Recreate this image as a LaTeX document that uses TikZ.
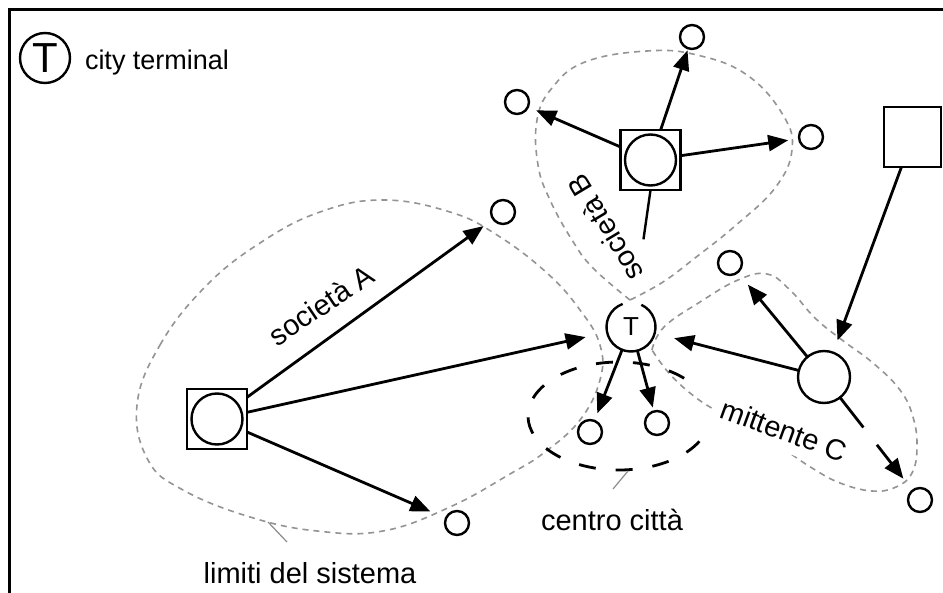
\documentclass[tikz,border=0pt]{standalone}
\usepackage{fontspec}
\setmainfont{Liberation Sans}
\usetikzlibrary{arrows.meta}
\begin{document}
\begin{tikzpicture}[x=1pt, y=-1pt,
  every node/.style={inner sep=0pt, outer sep=0pt},
  hub/.style={draw, line width=2.6pt, minimum size=60pt},
  disc/.style={circle, draw, line width=2.4pt, minimum size=51pt},
  dot/.style={circle, draw, line width=2.4pt, minimum size=24pt},
  flow/.style={line width=2.8pt, -{Triangle[length=20pt, width=16pt]}},
  zone/.style={draw=black!42, line width=1.6pt, dash pattern=on 6pt off 5pt},
  lbl/.style={font=\fontsize{29}{30}\selectfont},
  leader/.style={draw=black!45, line width=1.2pt}]

\useasboundingbox (0,0) rectangle (943,593);
\fill[white] (0,0) rectangle (943,593);
% frame (top and left edges)
\draw[line width=3pt] (9.5,593) -- (9.5,9.5) -- (943,9.5);

% legend
\node[circle, draw, line width=2.4pt, minimum size=50pt,
      font=\fontsize{42}{42}\selectfont] (legT) at (45,58) {T};
\node[anchor=base west, font=\fontsize{27}{28}\selectfont] (legtxt) at (85,70) {city terminal};

% system boundaries
\draw[zone] plot[smooth cycle, tension=0.7] coordinates {
  (137,405) (160,345) (205,287) (260,243) (320,212) (383,200) (450,212)
  (497,235) (547,273) (580,310) (600,345) (600,380) (580,420) (545,452)
  (510,474) (450,507) (383,531) (317,531) (250,517) (183,490) (148,460)};
\draw[zone] plot[smooth, tension=0.7] coordinates {
  (630,300) (593,268) (572,240) (550,200) (538,165) (537,120) (552,88)
  (585,62) (647,51) (697,55) (747,75) (783,115) (792,150) (775,188)
  (735,226) (695,258) (663,282) (630,300)};
\draw[zone] plot[smooth, tension=0.7] coordinates {
  (652,350) (664,327) (700,302) (738,280) (767,274) (790,290) (815,318)
  (842,340) (873,363) (900,390) (913,417) (917,447) (912,473) (896,487)
  (872,491) (840,483) (812,468) (785,450) (750,428) (715,410) (690,393)
  (668,372) (652,350)};

% city centre
\draw[line width=2.8pt, dash pattern=on 17pt off 20pt]
  ([shift={(-28:91pt and 54pt)}]619,416)
  arc[start angle=-28, end angle=-318, x radius=91pt, y radius=54pt];

% hubs
\node[hub] (A) at (217,419) {};
\node[disc] (Ain) at (A) {};
\node[hub] (B) at (650.5,160) {};
\node[disc] (Bin) at (B) {};
\node[draw, line width=2.6pt, minimum width=57pt, minimum height=60pt] (R) at (912.5,137) {};
\node[disc, minimum size=52pt] (C) at (824,377) {};

% terminal
\node[circle, minimum size=49pt, font=\fontsize{26}{26}\selectfont] (T) at (631,327) {T};
\draw[line width=2.4pt] (T.110) arc[start angle=110, end angle=425, radius=24.5pt];

% destinations
\node[dot] (a1) at (503,212) {};
\node[dot] (a2) at (457,523) {};
\node[dot] (b1) at (692,37) {};
\node[dot] (b2) at (517,102) {};
\node[dot] (b3) at (811,137) {};
\node[dot] (c1) at (730,263) {};
\node[dot] (c2) at (920,500) {};
\node[dot] (t1) at (590,432) {};
\node[dot] (t2) at (657,423) {};

% flows
\draw[flow, shorten >=12pt] (A) -- (a1);
\draw[flow, shorten >=22pt] (A) -- (T);
\draw[flow, shorten >=17pt] (A) -- (a2);
\draw[flow, shorten >=2pt] (B) -- (b1);
\draw[flow, shorten >=9pt] (B) -- (b2);
\draw[flow, shorten >=11pt] (B) -- (b3);
\draw[line width=2.4pt, shorten >=64pt] (B.south) -- (T);
\draw[flow, shorten >=8pt] (T) -- (t1);
\draw[flow, shorten >=4pt] (T) -- (t2);
\draw[flow, shorten >=16pt] (C) -- (c1);
\draw[flow, shorten >=20pt] (C) -- (T);
\draw[flow, shorten >=13pt] (R) -- (C);
\draw[flow, shorten >=15pt, dash pattern=on 38pt off 22pt on 200pt] (C) -- (c2);

% leaders
\coordinate (ccA) at (628,471);
\coordinate (ccB) at (613,489);
\draw[leader] (ccB) -- (ccA);
\coordinate (lsA) at (268,522);
\coordinate (lsB) at (287,542);
\draw[leader] (lsA) -- (lsB);

% labels
\node[lbl, rotate=34] (labA) at (321,305) {società A};
\node[lbl, rotate=121] (labB) at (605,228) {società B};
\node[lbl, rotate=-20, fill=white, inner xsep=8pt, inner ysep=10pt] (labC) at (784,430) {mittente C};
\node[lbl, anchor=base] (labcc) at (612,530) {centro città};
\node[lbl, anchor=base] (labsys) at (310,583) {limiti del sistema};
\end{tikzpicture}
\end{document}
